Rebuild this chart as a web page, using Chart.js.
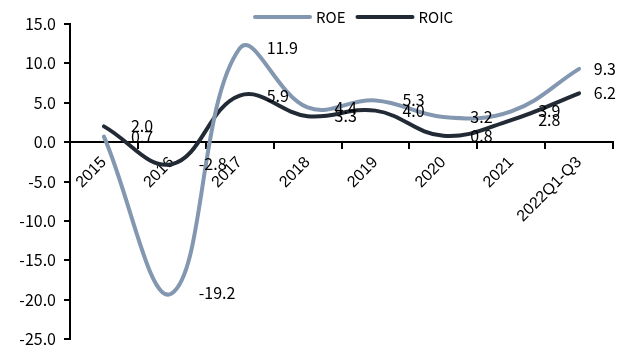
<!DOCTYPE html>
<html>
<head>
<meta charset="utf-8">
<script src="https://cdn.jsdelivr.net/npm/chart.js@4/dist/chart.umd.min.js"></script>
<style>
  html, body { margin: 0; padding: 0; background: #ffffff; }
  canvas { display: block; }
</style>
</head>
<body>
<canvas id="chart" width="619" height="349"></canvas>
<script>
// Categories and series
const categories = ['2015', '2016', '2017', '2018', '2019', '2020', '2021', '2022Q1-Q3'];
const roe  = [0.7, -19.2, 11.9, 4.4, 5.3, 3.2, 3.9, 9.3];
const roic = [2.0, -2.8, 5.9, 3.3, 4.0, 0.8, 2.8, 6.2];
// Value axis ticks
const yTicks = [15, 10, 5, 0, -5, -10, -15, -20, -25];

const CJK = '"Noto Sans CJK SC", "Noto Sans", sans-serif';
const LABEL_FONT = '16px ' + CJK;

// Value labels written to the right of each point
const valueLabels = {
  id: 'valueLabels',
  afterDatasetsDraw(chart) {
    const ctx = chart.ctx;
    ctx.save();
    ctx.font = LABEL_FONT;
    ctx.fillStyle = '#000000';
    ctx.textAlign = 'left';
    ctx.textBaseline = 'middle';
    chart.data.datasets.forEach((ds, di) => {
      const meta = chart.getDatasetMeta(di);
      meta.data.forEach((pt, i) => {
        const text = ds.data[i].toFixed(1);
        const w = ctx.measureText(text).width;
        let x = pt.x + 27;
        if (x + w > chart.width - 3) x = chart.width - 3 - w;
        ctx.fillText(text, x, pt.y);
      });
    });
    ctx.restore();
  }
};

// Line-sample legend along the top edge
const lineLegend = {
  id: 'lineLegend',
  afterDraw(chart) {
    const ctx = chart.ctx;
    ctx.save();
    ctx.font = '15px ' + CJK;
    ctx.textAlign = 'left';
    ctx.textBaseline = 'middle';
    const y = 17, sample = 55, gap = 6, itemGap = 12;
    let x = 255;
    chart.data.datasets.forEach((ds) => {
      ctx.strokeStyle = ds.borderColor;
      ctx.lineWidth = 4;
      ctx.lineCap = 'round';
      ctx.beginPath();
      ctx.moveTo(x, y);
      ctx.lineTo(x + sample, y);
      ctx.stroke();
      x += sample + gap;
      ctx.fillStyle = '#000000';
      ctx.fillText(ds.label, x, y);
      x += ctx.measureText(ds.label).width + itemGap;
    });
    ctx.restore();
  }
};

new Chart(document.getElementById('chart'), {
  type: 'line',
  data: {
    labels: categories,
    datasets: [
      {
        label: 'ROE',
        data: roe,
        borderColor: '#8497B0',
        backgroundColor: '#8497B0',
        borderWidth: 4,
        tension: 0.4,
        pointRadius: 0,
        borderCapStyle: 'round',
        fill: false
      },
      {
        label: 'ROIC',
        data: roic,
        borderColor: '#222A35',
        backgroundColor: '#222A35',
        borderWidth: 4,
        tension: 0.4,
        pointRadius: 0,
        borderCapStyle: 'round',
        fill: false
      }
    ]
  },
  options: {
    responsive: false,
    animation: false,
    devicePixelRatio: 1,
    layout: { padding: { left: 0, right: 6, top: 24, bottom: 10 } },
    plugins: {
      legend: { display: false },
      tooltip: { enabled: false }
    },
    scales: {
      x: {
        type: 'category',
        position: { y: 0 },
        offset: true,
        grid: {
          display: true,
          drawOnChartArea: false,
          drawTicks: true,
          tickLength: 6,
          offset: true,
          color: '#000000',
          lineWidth: 2
        },
        border: { display: true, color: '#000000', width: 2 },
        ticks: {
          autoSkip: false,
          maxRotation: 45,
          minRotation: 45,
          padding: 5,
          color: '#000000',
          font: { family: '"Liberation Sans", Arial, sans-serif', size: 16 }
        }
      },
      y: {
        min: -25,
        max: 15,
        afterFit(scale) {
          scale.width = 70;
          scale.paddingTop = 0;
          scale.paddingBottom = 0;
        },
        afterBuildTicks(scale) { scale.ticks = yTicks.map(v => ({ value: v })); },
        grid: {
          display: true,
          drawOnChartArea: false,
          drawTicks: true,
          tickLength: 6,
          color: '#000000',
          lineWidth: 2
        },
        border: { display: true, color: '#000000', width: 2 },
        ticks: {
          padding: 8,
          color: '#000000',
          font: { family: CJK, size: 16 },
          callback: (v) => Number(v).toFixed(1)
        }
      }
    }
  },
  plugins: [valueLabels, lineLegend]
});
</script>
</body>
</html>
